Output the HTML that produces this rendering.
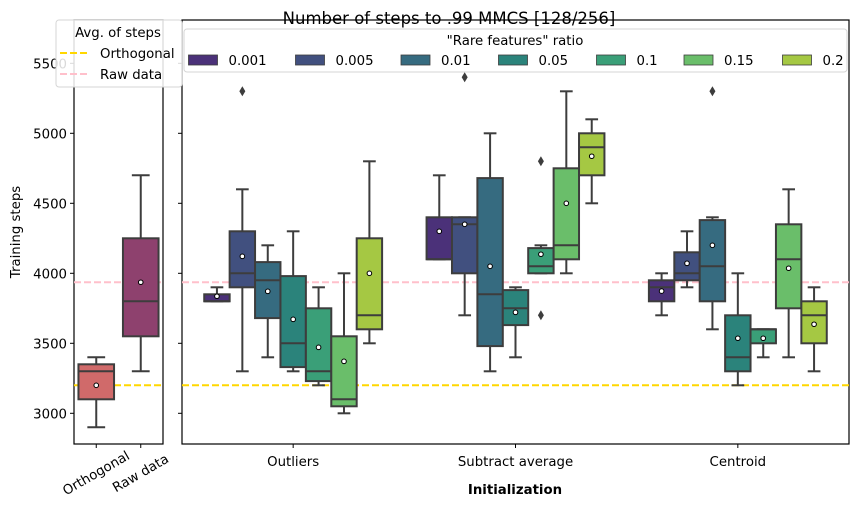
<!DOCTYPE html>
<html><head><meta charset="utf-8">
<style>
body{margin:0;background:#fff;}
svg{display:block;font-family:"DejaVu Sans","Liberation Sans",sans-serif;}
</style></head>
<body>
<svg id="chart" width="859" height="515" viewBox="0 0 859 515" xmlns="http://www.w3.org/2000/svg">
<rect x="0" y="0" width="859" height="515" fill="#fff"/>
<text x="449" y="24" text-anchor="middle" font-size="16.5" fill="#000">Number of steps to .99 MMCS [128/256]</text>
<g id="left"></g>
<g id="right"></g>
<text transform="translate(20,232) rotate(-90)" text-anchor="middle" font-size="13.3">Training steps</text>
<text x="515" y="494" text-anchor="middle" font-size="13.3" font-weight="bold">Initialization</text>
</svg>
<script>
const groups = ["Outliers", "Subtract average", "Centroid"];
const ratios = ["0.001", "0.005", "0.01", "0.05", "0.1", "0.15", "0.2"];
const ratioColors = ["#4b3179", "#41507f", "#366b80", "#2b837b", "#3a9f78", "#6abe6a", "#a5c843"];
// [whiskerLow, q1, median, q3, whiskerHigh, mean] per group per ratio
const outliersStats = [
  [3800, 3800, 3800, 3850, 3900, 3836],
  [3300, 3900, 4000, 4300, 4600, 4121],
  [3400, 3680, 3950, 4080, 4200, 3871],
  [3300, 3330, 3500, 3980, 4300, 3671],
  [3200, 3230, 3300, 3750, 3900, 3471],
  [3000, 3050, 3100, 3550, 4000, 3371],
  [3500, 3600, 3700, 4250, 4800, 4000]
];
const subtractStats = [
  [4100, 4100, 4100, 4400, 4700, 4300],
  [3700, 4000, 4350, 4400, 4400, 4350],
  [3300, 3480, 3850, 4680, 5000, 4050],
  [3400, 3630, 3750, 3880, 3900, 3721],
  [4000, 4000, 4050, 4180, 4200, 4136],
  [4000, 4100, 4200, 4750, 5300, 4500],
  [4500, 4700, 4900, 5000, 5100, 4836]
];
const centroidStats = [
  [3700, 3800, 3900, 3950, 4000, 3873],
  [3900, 3950, 4000, 4150, 4300, 4071],
  [3600, 3800, 4050, 4380, 4400, 4200],
  [3200, 3300, 3400, 3700, 4000, 3536],
  [3400, 3500, 3600, 3600, 3600, 3536],
  [3400, 3750, 4100, 4350, 4600, 4036],
  [3300, 3500, 3700, 3800, 3900, 3636]
];
// fliers: [groupIndex, ratioIndex, value]
const fliers = [[0, 1, 5300], [1, 1, 5400], [1, 4, 4800], [1, 4, 3700], [2, 2, 5300]];
const baseCats = ["Orthogonal", "Raw data"];
const baseColors = ["#d06a6a", "#8e416e"];
const baseStats = [
  [2900, 3100, 3300, 3350, 3400, 3200],
  [3300, 3550, 3800, 4250, 4700, 3936]
];
const avgLines = [3200, 3936];
const avgColors = ["#ffd700", "#ffc0cb"];
const yTicks = [3000, 3500, 4000, 4500, 5000, 5500];

const NS = "http://www.w3.org/2000/svg";
const svg = document.getElementById("chart");
const Y0 = 413.3, PX = 0.14;
const FS = 13.3;
function y(v){ return Y0 - (v - 3000) * PX; }
function mk(tag, attrs, parent){ const e = document.createElementNS(NS, tag); for (const k in attrs) e.setAttribute(k, attrs[k]); (parent||svg).appendChild(e); return e; }
const L = {x0: 74, x1: 163}, R = {x0: 182, x1: 849}, TOP = 20, BOT = 444;
const leftG = document.getElementById("left"), rightG = document.getElementById("right");
const SW = 2;

function drawBox(g, cx, w, s, color, name){
  const bg = mk("g", {}, g);
  
  
  const st = "#3d3d3d";
  mk("line", {x1: cx, x2: cx, y1: y(s[0]), y2: y(s[1]), stroke: st, "stroke-width": SW}, bg);
  mk("line", {x1: cx, x2: cx, y1: y(s[3]), y2: y(s[4]), stroke: st, "stroke-width": SW}, bg);
  mk("line", {x1: cx - w/4, x2: cx + w/4, y1: y(s[0]), y2: y(s[0]), stroke: st, "stroke-width": SW}, bg);
  mk("line", {x1: cx - w/4, x2: cx + w/4, y1: y(s[4]), y2: y(s[4]), stroke: st, "stroke-width": SW}, bg);
  mk("rect", {x: cx - w/2, y: y(s[3]), width: w, height: Math.max(y(s[1]) - y(s[3]), 0.5), fill: color, stroke: st, "stroke-width": SW}, bg);
  mk("line", {x1: cx - w/2, x2: cx + w/2, y1: y(s[2]), y2: y(s[2]), stroke: st, "stroke-width": SW}, bg);
  mk("circle", {cx: cx, cy: y(s[5]), r: 2.3, fill: "#fff", stroke: "#000", "stroke-width": 1}, bg);
}
function axes(g, a, labels, name){
  const f = mk("rect", {x: a.x0, y: TOP, width: a.x1 - a.x0, height: BOT - TOP, fill: "none", stroke: "#000", "stroke-width": 1.2}, g);
  
  
  yTicks.forEach(t => {
    mk("line", {x1: a.x0 - 4, x2: a.x0, y1: y(t), y2: y(t), stroke: "#000", "stroke-width": 1}, g);
    if (labels) {
      const tx = mk("text", {x: a.x0 - 7, y: y(t) + 5, "text-anchor": "end", "font-size": FS}, g);
      tx.textContent = t;
      
      
    }
  });
}
// left panel
axes(leftG, L, true, "baseline-axes");
avgLines.forEach((v, i) => {
  const ln = mk("line", {x1: L.x0, x2: L.x1, y1: y(v), y2: y(v), stroke: avgColors[i], "stroke-width": 2, "stroke-dasharray": "7,3"}, leftG);
  
  
});
const lw = (L.x1 - L.x0) / 2;
baseCats.forEach((c, i) => {
  const cx = L.x0 + lw * (i + 0.5);
  drawBox(leftG, cx, lw * 0.8, baseStats[i], baseColors[i], "box-" + c.toLowerCase().replace(/ /g, "-"));
  mk("line", {x1: cx, x2: cx, y1: BOT, y2: BOT + 4, stroke: "#000"}, leftG);
  const tx = mk("text", {transform: `translate(${cx + 2},${BOT + 33}) rotate(-30)`, "text-anchor": "middle", "font-size": FS}, leftG);
  tx.textContent = c;
  
  
});
// right panel
axes(rightG, R, false, "main-axes");
avgLines.forEach((v, i) => {
  const ln = mk("line", {x1: R.x0, x2: R.x1, y1: y(v), y2: y(v), stroke: avgColors[i], "stroke-width": 2, "stroke-dasharray": "7,3"}, rightG);
  
  
});
const gw = (R.x1 - R.x0) / groups.length, bw = gw * 0.8 / ratios.length;
const allStats = [outliersStats, subtractStats, centroidStats];
function bx(gi, ri){ return R.x0 + gw * (gi + 0.5) + (ri - (ratios.length - 1) / 2) * bw; }
groups.forEach((g, gi) => {
  ratios.forEach((r, ri) => drawBox(rightG, bx(gi, ri), bw, allStats[gi][ri], ratioColors[ri], "box-" + gi + "-" + r));
  const cx = R.x0 + gw * (gi + 0.5);
  mk("line", {x1: cx, x2: cx, y1: BOT, y2: BOT + 4, stroke: "#000"}, rightG);
  const tx = mk("text", {x: cx, y: BOT + 22, "text-anchor": "middle", "font-size": FS}, rightG);
  tx.textContent = g;
  
  
});
fliers.forEach(f => {
  const cx = bx(f[0], f[1]), cy = y(f[2]);
  const p = mk("path", {d: `M${cx},${cy-5}L${cx+3},${cy}L${cx},${cy+5}L${cx-3},${cy}Z`, fill: "#3d3d3d"}, rightG);
  
  
});
// right legend
const lg = mk("g", {}, svg);


mk("rect", {x: 184, y: 29, width: 663, height: 43, rx: 3, fill: "#fff", "fill-opacity": 0.85, stroke: "#d6d6d6"}, lg);
const lt = mk("text", {x: 515, y: 45, "text-anchor": "middle", "font-size": FS}, lg);
lt.textContent = '"Rare features" ratio';
const patchX = [188.5, 295.5, 401, 498.5, 596.5, 684, 782.5];
ratios.forEach((r, i) => {
  const e = mk("g", {}, lg);
  
  
  mk("rect", {x: patchX[i], y: 55, width: 29, height: 10, fill: ratioColors[i], stroke: "#3d3d3d", "stroke-width": 0.8}, e);
  const t = mk("text", {x: patchX[i] + 40, y: 65, "font-size": FS}, e);
  t.textContent = r;
});
// left legend
const lg2 = mk("g", {}, svg);


mk("rect", {x: 56, y: 20, width: 126, height: 67, rx: 3, fill: "#fff", "fill-opacity": 0.85, stroke: "#d6d6d6"}, lg2);
const t2 = mk("text", {x: 118, y: 37, "text-anchor": "middle", "font-size": FS}, lg2);
t2.textContent = "Avg. of steps";
baseCats.forEach((c, i) => {
  const e = mk("g", {}, lg2);
  
  
  const yy = 53 + i * 21;
  mk("line", {x1: 60, x2: 88, y1: yy, y2: yy, stroke: avgColors[i], "stroke-width": 2, "stroke-dasharray": "7,3"}, e);
  const t = mk("text", {x: 100, y: yy + 5, "font-size": FS}, e);
  t.textContent = c;
});
</script>
</body></html>
